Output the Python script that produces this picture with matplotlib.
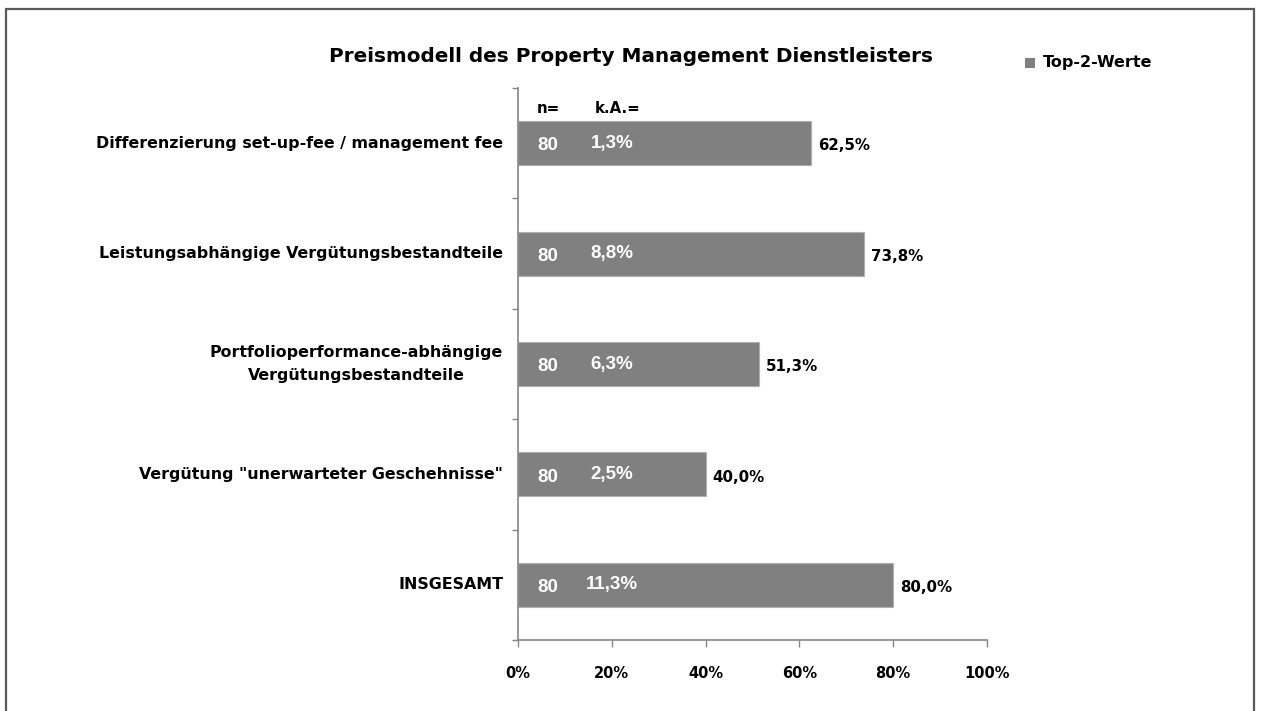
import matplotlib
matplotlib.use("Agg")
import matplotlib.pyplot as plt
from matplotlib.patches import Rectangle
from matplotlib.transforms import blended_transform_factory

categories = [
    "Differenzierung set-up-fee / management fee",
    "Leistungsabhängige Vergütungsbestandteile",
    "Portfolioperformance-abhängige\nVergütungsbestandteile",
    'Vergütung "unerwarteter Geschehnisse"',
    "INSGESAMT",
]
top2 = [62.5, 73.8, 51.3, 40.0, 80.0]
n_values = [80, 80, 80, 80, 80]
ka_values = [1.3, 8.8, 6.3, 2.5, 11.3]
xticks = [0, 20, 40, 60, 80, 100]

LBL = "DejaVu Sans"
ARIAL = "Liberation Sans"
BAR = "#808080"
AXC = "#868686"

W, H = 1261, 711
fig = plt.figure(figsize=(W / 100, H / 100), dpi=100)

# outer frame
fig.add_artist(Rectangle((5.5 / W, -0.05), 1248 / W, 1.05 - 8.5 / H,
                         transform=fig.transFigure, fill=False,
                         edgecolor="#5a5a5a", linewidth=1.6))

ax = fig.add_axes([518 / W, (H - 640) / H, (987 - 518) / W, (640 - 88) / H])
y = list(range(len(categories)))
ax.barh(y, top2, height=0.4, color=BAR, edgecolor="#b0b0b0", linewidth=0.8)
ax.set_xlim(0, 100)
ax.set_ylim(len(categories) - 0.5, -0.5)

for s in ["top", "right"]:
    ax.spines[s].set_visible(False)
for s in ["left", "bottom"]:
    ax.spines[s].set_color(AXC)
    ax.spines[s].set_linewidth(1.2)

ax.set_xticks(xticks)
ax.set_xticklabels([f"{v}%" for v in xticks], fontfamily=LBL,
                   fontweight="bold", fontsize=10.5)
ax.tick_params(axis="x", length=5, color=AXC, width=1, pad=14)

ax.set_yticks([i - 0.5 for i in range(len(categories) + 1)])
ax.set_yticklabels([])
ax.tick_params(axis="y", length=4, color=AXC, width=1)

trans = blended_transform_factory(fig.transFigure, ax.transData)
for i, c in enumerate(categories):
    ax.text(503 / W, i, c, transform=trans, ha="right", va="center",
            multialignment="center", fontfamily=LBL, fontweight="bold",
            fontsize=11.4, linespacing=1.6)

for i, (v, nv, ka) in enumerate(zip(top2, n_values, ka_values)):
    ax.annotate(f"{v:.1f}%".replace(".", ","), xy=(v, i), xytext=(5, -2),
                textcoords="offset points", ha="left", va="center",
                fontfamily=LBL, fontweight="bold", fontsize=10.8,
                color="black")
    ax.annotate(str(nv), xy=(0, i), xytext=(21.5, -2),
                textcoords="offset points", ha="center", va="center",
                fontfamily=ARIAL, fontweight="bold", fontsize=13.5,
                color="white")
    ax.annotate(f"{ka:.1f}%".replace(".", ","), xy=(20, i), xytext=(0, 0),
                textcoords="offset points", ha="center", va="center",
                fontfamily=ARIAL, fontweight="bold", fontsize=13.5,
                color="white")

fig.text(537 / W, 1 - 113 / H, "n=", ha="left", va="baseline",
         fontfamily=LBL, fontweight="bold", fontsize=10.8)
fig.text(595 / W, 1 - 113 / H, "k.A.=", ha="left", va="baseline",
         fontfamily=LBL, fontweight="bold", fontsize=10.8)

fig.text(631 / W, 1 - 57 / H, "Preismodell des Property Management Dienstleisters",
         ha="center", va="center", fontfamily=LBL, fontweight="bold",
         fontsize=14.4)

fig.add_artist(Rectangle((1025 / W, 1 - 68 / H), 10 / W, 10 / H,
                         transform=fig.transFigure, facecolor=BAR,
                         edgecolor="none"))
fig.text(1043 / W, 1 - 62 / H, "Top-2-Werte", ha="left", va="center",
         fontfamily=LBL, fontweight="bold", fontsize=11.5)

fig.savefig("out.png", dpi=100)
